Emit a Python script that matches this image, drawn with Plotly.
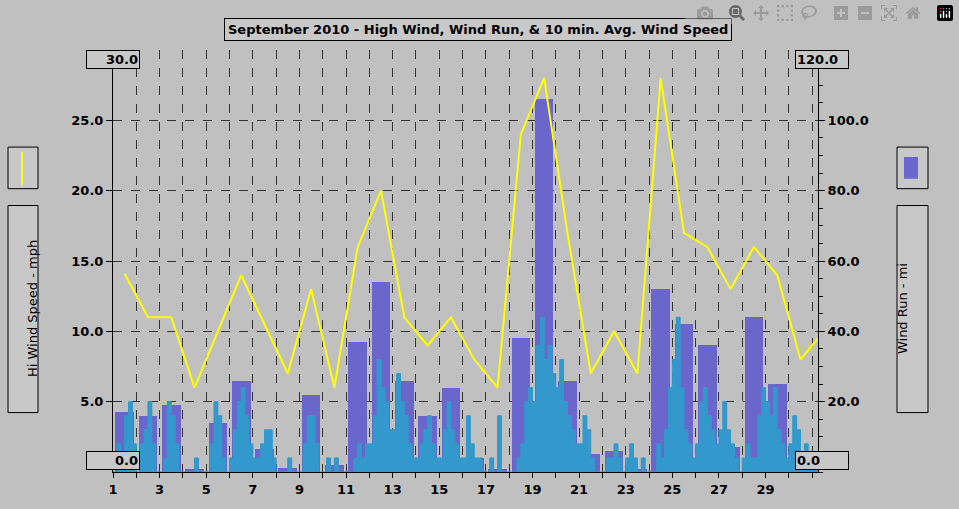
import plotly.graph_objects as go

days = list(range(1, 32))
hi_wind = [14.1, 11, 11, 6, 10, 14, 10.5, 7, 13, 6, 16, 20, 11, 9, 11, 8, 6, 24, 28, 17, 7, 10, 7, 28, 17, 16, 13, 16, 14, 8, 10]
wind_run = [17, 16, 19, 0.8, 14, 26, 6.5, 1.2, 22, 2, 37, 54, 26, 16, 24, 4, 0.8, 38, 106, 26, 5, 6, 0.8, 52, 42, 36, 7, 44, 25, 4, 0]
avg10 = [
    [0,2,1,4,5,2],[0,2,3,5,2,0],[0,1,5,4,2,0],[0,0,0,1,0,0],[0,2,5,4,1,0],
    [1,3,5,6,4,2],[1,1,2,3,3,1],[0,0,0,1,0,0],[0,2,4,4,2,0],[0,1,0,1,0,0],
    [0,0,1,2,1,2],[2,4,8,6,5,3],[3,7,5,4,2,1],[1,2,3,4,2,1],[1,3,5,3,2,1],
    [1,4,2,1,1,0],[0,1,0,4,0,0],[0,0,1,2,5,6],[5,9,11,8,9,7],[6,8,5,4,3,2],
    [2,4,3,1,0,0],[0,1,1,2,1,0],[1,2,1,0,1,0],[0,0,2,1,3,6],[8,11,6,3,2,1],
    [2,5,6,4,3,2],[3,5,3,2,1,0],[1,2,1,1,4,6],[5,4,6,3,2,1],[2,4,3,1,2,1],
    [1,1,2,1,0,0],
]
x_ticks = list(range(1, 31, 2))

centers = [d + 0.5 for d in days]
ax, ay = [], []
for d, vals in zip(days, avg10):
    for i, v in enumerate(vals):
        ax.append(d + i / 6)
        ay.append(v)
ax.append(32); ay.append(0)

fig = go.Figure()
fig.add_trace(go.Bar(x=centers, y=wind_run, width=0.8, marker=dict(color="#6a66cc", line_width=0), yaxis="y"))
fig.add_trace(go.Scatter(x=ax, y=ay, mode="lines", line=dict(color="#3399cc", width=1, shape="hv"),
                         fill="tozeroy", fillcolor="#3399cc", yaxis="y2"))
fig.add_trace(go.Scatter(x=centers, y=hi_wind, mode="lines", line=dict(color="#ffff00", width=2), yaxis="y2"))

tf = dict(family="DejaVu Sans", size=13, color="black")
fig.update_layout(
    width=959, height=509, showlegend=False, bargap=0,
    paper_bgcolor="#c0c0c0", plot_bgcolor="#c0c0c0",
    margin=dict(l=113, r=141, t=50, b=33), font=tf,
    xaxis=dict(range=[1, 31.25], tickvals=x_ticks, ticktext=[f"<b>{t}</b>" for t in x_ticks],
               showgrid=True, gridcolor="#333", griddash="dash",
               gridwidth=1, ticks="outside", ticklen=5, tickcolor="black",
               minor=dict(dtick=1, tick0=1, showgrid=True, gridcolor="#333", griddash="dash", ticks="outside", ticklen=5, tickcolor="black"),
               showline=True, linecolor="black", zeroline=False, tickfont=tf),
    yaxis=dict(range=[0, 120], side="right", tickvals=[20, 40, 60, 80, 100],
               ticktext=["<b>20.0</b>", "<b>40.0</b>", "<b>60.0</b>", "<b>80.0</b>", "<b>100.0</b>"], showgrid=True, gridcolor="#333",
               griddash="dash", ticks="outside", ticklen=6, tickcolor="black", showline=True,
               linecolor="black", zeroline=False, minor=dict(dtick=5, ticks="outside", ticklen=4, tickcolor="black"),
               tickfont=tf),
    yaxis2=dict(range=[0, 30], side="left", overlaying="y", tickvals=[5, 10, 15, 20, 25],
                ticktext=["<b>5.0</b>", "<b>10.0</b>", "<b>15.0</b>", "<b>20.0</b>", "<b>25.0</b>"], showgrid=False, ticks="outside",
                ticklen=6, tickcolor="black", showline=True, linecolor="black", zeroline=False,
                tickfont=tf),
)

def px(x): return (x - 113) / 705
def py(y): return (476 - y) / 426

shapes = []
for x0, x1 in [(8, 38), (897, 928)]:
    shapes.append(dict(type="rect", xref="paper", yref="paper", x0=px(x0), x1=px(x1), y0=py(148), y1=py(190),
                       line=dict(color="black", width=1), fillcolor="#c8c8c8"))
    shapes.append(dict(type="rect", xref="paper", yref="paper", x0=px(x0), x1=px(x1), y0=py(207), y1=py(416),
                       line=dict(color="black", width=1), fillcolor="#c8c8c8"))
shapes.append(dict(type="line", xref="paper", yref="paper", x0=px(22), x1=px(22), y0=py(153), y1=py(186),
                   line=dict(color="#ffff00", width=2)))
shapes.append(dict(type="rect", xref="paper", yref="paper", x0=px(904), x1=px(918), y0=py(158), y1=py(180),
                   line=dict(width=0), fillcolor="#6a66cc"))
fig.update_layout(shapes=shapes)

def box(text, x, y, **kw):
    fig.add_annotation(text=text, xref="paper", yref="paper", x=px(x), y=py(y),
                       showarrow=False, bordercolor="black", borderwidth=1, bgcolor="#c8c8c8",
                       font=tf, **kw)

box("<b>September 2010 - High Wind, Wind Run, & 10 min. Avg. Wind Speed</b>", 478, 18, borderpad=3)
box("<b>30.0</b>", 86, 50, width=50, align="right")
box("<b>0.0</b>", 86, 474, width=50, align="right")
box("<b>120.0</b>", 849, 50, width=50, align="left")
box("<b>0.0</b>", 849, 474, width=50, align="left")
fig.add_annotation(text="Hi Wind Speed - mph", xref="paper", yref="paper", x=px(23), y=py(311),
                   showarrow=False, textangle=-90, font=tf)
fig.add_annotation(text="Wind Run - mi", xref="paper", yref="paper", x=px(912), y=py(311),
                   showarrow=False, textangle=-90, font=tf)

fig.write_html("out.html", post_script="document.body.style.margin='0';document.body.style.overflow='hidden';")
